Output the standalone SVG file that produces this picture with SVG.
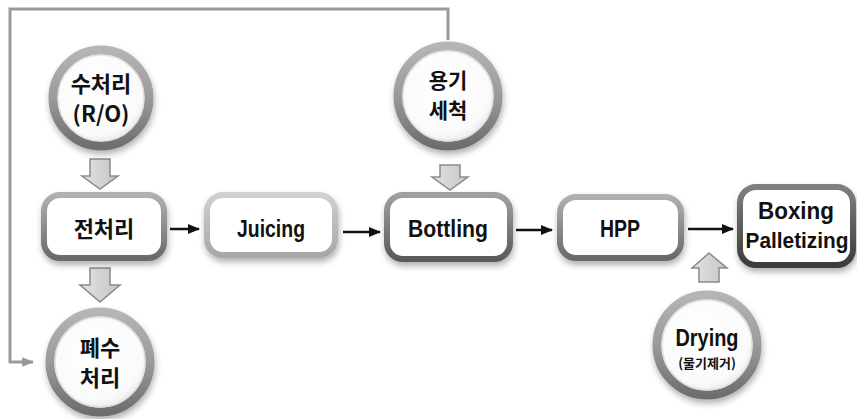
<svg xmlns="http://www.w3.org/2000/svg" width="857" height="419" viewBox="0 0 857 419">
<defs>
<style>
.kr{font-family:"Noto Sans CJK KR","Liberation Sans",sans-serif;font-weight:bold;fill:#111;text-anchor:middle}
.en{font-family:"Liberation Sans","Noto Sans CJK KR",sans-serif;font-weight:bold;fill:#111;text-anchor:middle}
.ring{fill:url(#cfill);stroke:url(#ringg);stroke-width:9;filter:url(#sh)}
.ringin{fill:none;stroke:#e0e0e0;stroke-width:1.5}
.box{fill:#fff;stroke-width:6;filter:url(#sh)}
.flow{stroke:#111;stroke-width:2.5;fill:none;marker-end:url(#ah)}
.blk{fill:url(#blkg);stroke:#8a8a8a;stroke-width:1.5}
</style>
<radialGradient id="cfill" cx="0.45" cy="0.4" r="0.6">
<stop offset="0" stop-color="#ffffff"/><stop offset="0.8" stop-color="#fafafa"/><stop offset="1" stop-color="#e6e6e6"/>
</radialGradient>
<linearGradient id="ringg" x1="0" y1="0" x2="0" y2="1">
<stop offset="0" stop-color="#b5b5b5"/><stop offset="0.5" stop-color="#9a9a9a"/><stop offset="1" stop-color="#6e6e6e"/>
</linearGradient>
<linearGradient id="bl" x1="0" y1="0" x2="0" y2="1"><stop offset="0" stop-color="#d0d0d0"/><stop offset="1" stop-color="#a8a8a8"/></linearGradient>
<linearGradient id="bm" x1="0" y1="0" x2="0" y2="1"><stop offset="0" stop-color="#b0b0b0"/><stop offset="1" stop-color="#6a6a6a"/></linearGradient>
<linearGradient id="bd" x1="0" y1="0" x2="0" y2="1"><stop offset="0" stop-color="#a0a0a0"/><stop offset="1" stop-color="#5a5a5a"/></linearGradient>
<linearGradient id="bx" x1="0" y1="0" x2="0" y2="1"><stop offset="0" stop-color="#808080"/><stop offset="1" stop-color="#3c3c3c"/></linearGradient>
<linearGradient id="blkg" x1="0" y1="0" x2="1" y2="0"><stop offset="0" stop-color="#e4e4e4"/><stop offset="1" stop-color="#c4c4c4"/></linearGradient>
<filter id="sh" x="-20%" y="-20%" width="140%" height="150%"><feDropShadow dx="1" dy="4" stdDeviation="3" flood-color="#000" flood-opacity="0.3"/></filter>
<marker id="ah" viewBox="0 0 10 10" refX="9" refY="5" markerWidth="5" markerHeight="5" orient="auto" markerUnits="strokeWidth"><path d="M0,1 L10,5 L0,9 Z" fill="#111"/></marker>
<marker id="ahg" viewBox="0 0 10 10" refX="9" refY="5" markerWidth="4" markerHeight="4" orient="auto" markerUnits="strokeWidth"><path d="M0,1 L10,5 L0,9 Z" fill="#999"/></marker>
</defs>
<rect width="857" height="419" fill="#fff"/>
<g id="connectors">
<polyline points="448,40 448,9 10,9 10,362 33,362" fill="none" stroke="#9a9a9a" stroke-width="3" marker-end="url(#ahg)"/>
<line class="flow" x1="170" y1="229" x2="199" y2="229"/>
<line class="flow" x1="343" y1="232" x2="380" y2="232"/>
<line class="flow" x1="516" y1="230" x2="552" y2="230"/>
<line class="flow" x1="688" y1="229" x2="733" y2="229"/>
<polygon class="blk" points="90,159 110,159 110,176 118,176 100,189 82,176 90,176"/>
<polygon class="blk" points="90,268 110,268 110,285 120,285 100,302 80,285 90,285"/>
<polygon class="blk" points="440,165 460,165 460,177 468,177 450,190 432,177 440,177"/>
<polygon class="blk" points="709,253 727,268 719,268 719,282 699,282 699,268 692,268"/>
</g>
<g id="n-water">
<circle class="ring" cx="101" cy="98" r="48"/>
<circle class="ringin" cx="101" cy="98" r="43"/>
<text class="kr" x="101" y="92" font-size="22">수처리</text>
<text class="kr" x="101" y="122" font-size="22">(R/O)</text>
</g>
<g id="n-bottle-wash">
<circle class="ring" cx="448" cy="96" r="50"/>
<circle class="ringin" cx="448" cy="96" r="45"/>
<text class="kr" x="448" y="88" font-size="21">용기</text>
<text class="kr" x="448" y="118" font-size="21">세척</text>
</g>
<g id="n-pre">
<rect class="box" x="44" y="195" width="120" height="63" rx="16" stroke="url(#bm)"/>
<text class="kr" x="104" y="237" font-size="22">전처리</text>
</g>
<g id="n-juicing">
<rect class="box" x="207" y="195" width="128" height="60" rx="16" stroke="url(#bl)"/>
<text class="en" x="271" y="237" font-size="23" textLength="68" lengthAdjust="spacingAndGlyphs">Juicing</text>
</g>
<g id="n-bottling">
<rect class="box" x="387" y="195" width="123" height="64" rx="16" stroke="url(#bd)"/>
<text class="en" x="448" y="237" font-size="23" textLength="80" lengthAdjust="spacingAndGlyphs">Bottling</text>
</g>
<g id="n-hpp">
<rect class="box" x="560" y="197" width="121" height="61" rx="16" stroke="url(#bm)"/>
<text class="en" x="620" y="237" font-size="23" textLength="40" lengthAdjust="spacingAndGlyphs">HPP</text>
</g>
<g id="n-boxing">
<rect class="box" x="740" y="187" width="113" height="78" rx="16" stroke="url(#bx)"/>
<text class="en" x="796" y="219" font-size="24" textLength="76" lengthAdjust="spacingAndGlyphs">Boxing</text>
<text class="en" x="797" y="248" font-size="22" textLength="103" lengthAdjust="spacingAndGlyphs">Palletizing</text>
</g>
<g id="n-waste">
<circle class="ring" cx="100" cy="362" r="50"/>
<circle class="ringin" cx="100" cy="362" r="45"/>
<text class="kr" x="100" y="356" font-size="22">폐수</text>
<text class="kr" x="100" y="386" font-size="22">처리</text>
</g>
<g id="n-drying">
<circle class="ring" cx="707" cy="345" r="50"/>
<circle class="ringin" cx="707" cy="345" r="45"/>
<text class="en" x="707" y="346" font-size="24" textLength="63" lengthAdjust="spacingAndGlyphs">Drying</text>
<text class="kr" x="707" y="368" font-size="13">(물기제거)</text>
</g>
</svg>
